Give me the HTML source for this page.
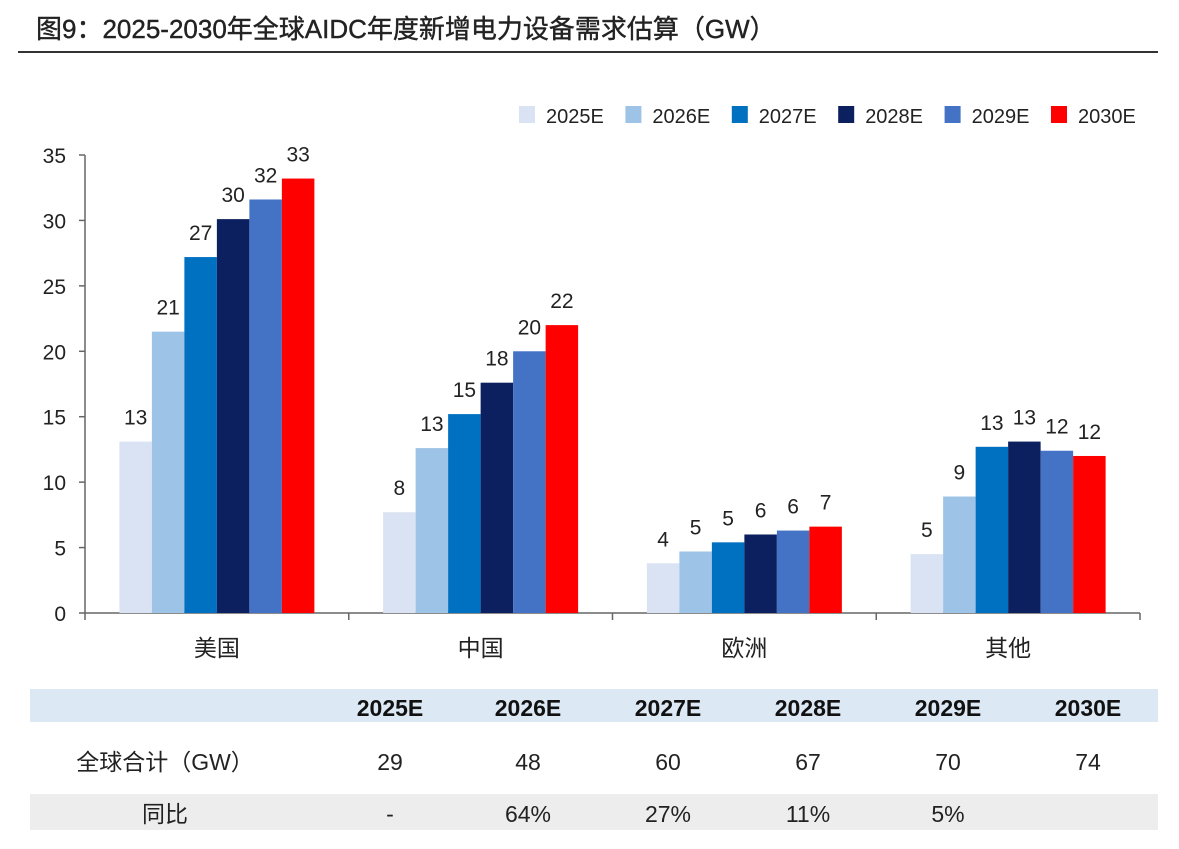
<!DOCTYPE html>
<html><head><meta charset="utf-8">
<style>
body{margin:0;background:#fff;font-family:"Liberation Sans","Noto Sans CJK SC",sans-serif;}
svg text{font-family:"Liberation Sans","Noto Sans CJK SC",sans-serif;}
</style></head>
<body>
<svg id="chart" width="1179" height="844" xmlns="http://www.w3.org/2000/svg">
<text x="36" y="38" font-size="26" fill="#222" stroke="#222" stroke-width="0.4">图9：2025-2030年全球AIDC年度新增电力设备需求估算（GW）</text>
<line x1="18" y1="52" x2="1158" y2="52" stroke="#333" stroke-width="2"/>
<g id="legend"></g>
<g id="axes"></g>
<g id="bars"></g>
<g id="table"></g>
</svg>
<script>
const categories=["美国","中国","欧洲","其他"];
const seriesNames=["2025E","2026E","2027E","2028E","2029E","2030E"];
const v2025=[13.1,7.7,3.8,4.5];
const v2026=[21.5,12.6,4.7,8.9];
const v2027=[27.2,15.2,5.4,12.7];
const v2028=[30.1,17.6,6.0,13.1];
const v2029=[31.6,20.0,6.3,12.4];
const v2030=[33.2,22.0,6.6,12.0];
const labels2025=["13","8","4","5"];
const labels2026=["21","13","5","9"];
const labels2027=["27","15","5","13"];
const labels2028=["30","18","6","13"];
const labels2029=["32","20","6","12"];
const labels2030=["33","22","7","12"];
const yTicks=[0,5,10,15,20,25,30,35];
const totals=["29","48","60","67","70","74"];
const yoy=["-","64%","27%","11%","5%",""];
const colors=["#dae3f3","#9dc3e6","#0070c0","#0c1f5e","#4472c4","#ff0000"];
const values=[v2025,v2026,v2027,v2028,v2029,v2030];
const labels=[labels2025,labels2026,labels2027,labels2028,labels2029,labels2030];
const NS="http://www.w3.org/2000/svg";
function mk(tag,attrs,parent,text){const e=document.createElementNS(NS,tag);for(const k in attrs)e.setAttribute(k,attrs[k]);if(text!==undefined)e.textContent=text;parent.appendChild(e);return e;}
const y0=613,y1=155,yMax=35;
const yS=v=>y0-(v/yMax)*(y0-y1);
const xL=85,xR=1140,gW=(xR-xL)/categories.length,bW=32.5;
const gx=i=>xL+gW*i+gW/2;
const axes=document.getElementById('axes');
let e=mk('line',{x1:xL,y1:y1,x2:xL,y2:y0,stroke:'#666','stroke-width':1.5},axes);

e=mk('line',{x1:xL,y1:y0,x2:xR,y2:y0,stroke:'#666','stroke-width':1.5},axes);

yTicks.forEach(t=>{
 const y=yS(t);
 let l=mk('line',{x1:xL-6,y1:y,x2:xL,y2:y,stroke:'#666','stroke-width':1.5},axes);
 
 let tx=mk('text',{x:66,y:y+8,'font-size':21,'text-anchor':'end',fill:'#222'},axes,String(t));
 
});
for(let i=0;i<=categories.length;i++){
 let l=mk('line',{x1:xL+gW*i,y1:y0,x2:xL+gW*i,y2:y0+7,stroke:'#666','stroke-width':1.5},axes);
 
}
categories.forEach((c,i)=>{
 let tx=mk('text',{x:gx(i),y:656,'font-size':23,'text-anchor':'middle',fill:'#222'},axes,c);
 
});
const bars=document.getElementById('bars');
values.forEach((arr,s)=>{
 arr.forEach((v,i)=>{
  const x=gx(i)-3*bW+s*bW;
  let r=mk('rect',{x:x,y:yS(v),width:bW,height:y0-yS(v),fill:colors[s]},bars);
  
  
  let t=mk('text',{x:x+bW/2,y:yS(v)-17,'font-size':21,'text-anchor':'middle',fill:'#222'},bars,labels[s][i]);
  
  
 });
});
const leg=document.getElementById('legend');
seriesNames.forEach((n,s)=>{
 const lx=519+106.4*s;
 let r=mk('rect',{x:lx,y:106,width:16,height:17,fill:colors[s]},leg);
 
 let t=mk('text',{x:lx+27,y:123,'font-size':20,fill:'#222'},leg,n);
 
});
const tb=document.getElementById('table');
const colX=[390,528,668,808,948,1088];
let b=mk('rect',{x:30,y:689,width:1128,height:33,fill:'#dce9f5'},tb);

b=mk('rect',{x:30,y:794,width:1128,height:36,fill:'#ededed'},tb);

let t=mk('text',{x:165,y:770,'font-size':23,'text-anchor':'middle',fill:'#222'},tb,'全球合计（GW）');

t=mk('text',{x:165,y:822,'font-size':23,'text-anchor':'middle',fill:'#222'},tb,'同比');

seriesNames.forEach((n,i)=>{
 let h=mk('text',{x:colX[i],y:716,'font-size':23,'font-weight':'bold','text-anchor':'middle',fill:'#111'},tb,n);
 
 let a=mk('text',{x:colX[i],y:770,'font-size':23,'text-anchor':'middle',fill:'#222'},tb,totals[i]);
 
 let c=mk('text',{x:colX[i],y:822,'font-size':23,'text-anchor':'middle',fill:'#222'},tb,yoy[i]);
 
});
</script>
</body></html>
